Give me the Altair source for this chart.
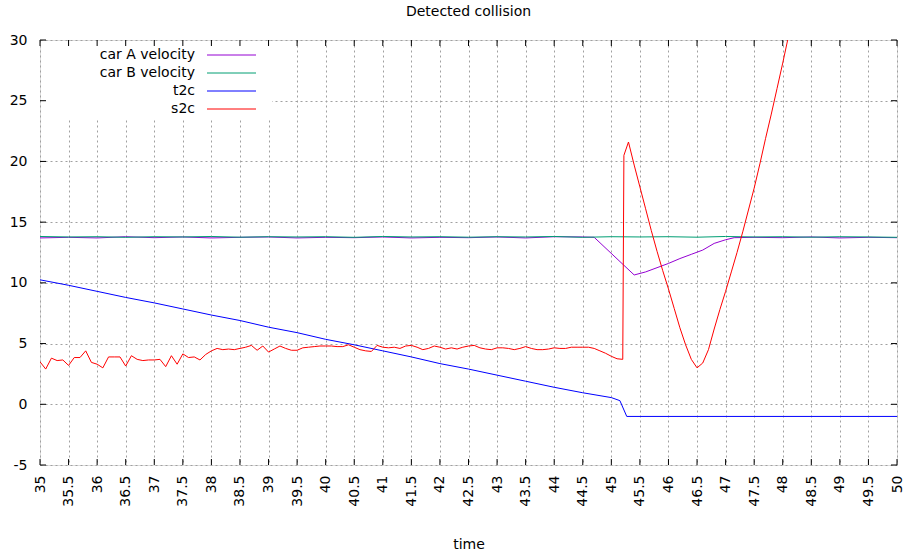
import altair as alt
import pandas as pd

FONT = "DejaVu Sans"
FS = 14
W, H = 857, 425

series_names = ["car A velocity", "car B velocity", "t2c", "s2c"]
series_colors = ["#9400d3", "#009e73", "#0000ff", "#ff0000"]

x_ticks = [35, 35.5, 36, 36.5, 37, 37.5, 38, 38.5, 39, 39.5, 40, 40.5, 41, 41.5, 42,
           42.5, 43, 43.5, 44, 44.5, 45, 45.5, 46, 46.5, 47, 47.5, 48, 48.5, 49, 49.5, 50]
y_ticks = [-5, 0, 5, 10, 15, 20, 25, 30]

carA_time = [35, 35.5, 36, 36.5, 37, 37.5, 38, 38.5, 39, 39.5, 40, 40.5, 41, 41.5, 42,
             42.5, 43, 43.5, 44, 44.5, 44.7, 45.4, 45.6, 45.8, 46.0, 46.2, 46.4, 46.6,
             46.8, 47.0, 47.15, 47.5, 48, 48.5, 49, 49.5, 50]
carA_vel = [13.7, 13.75, 13.7, 13.8, 13.72, 13.78, 13.7, 13.75, 13.78, 13.7, 13.75, 13.72,
            13.78, 13.7, 13.75, 13.72, 13.78, 13.7, 13.8, 13.78, 13.75, 10.65, 10.9, 11.25,
            11.6, 12.0, 12.35, 12.7, 13.25, 13.55, 13.72, 13.75, 13.72, 13.78, 13.7, 13.75, 13.72]

carB_time = x_ticks
carB_vel = [13.82, 13.78, 13.8, 13.75, 13.8, 13.78, 13.82, 13.76, 13.8, 13.78, 13.8, 13.75,
            13.82, 13.78, 13.8, 13.76, 13.8, 13.78, 13.82, 13.75, 13.8, 13.78, 13.8, 13.76,
            13.82, 13.78, 13.8, 13.76, 13.8, 13.78, 13.75]

t2c_time = [35, 35.5, 36, 36.5, 37, 37.5, 38, 38.5, 39, 39.5, 40, 40.5, 41, 41.5, 42,
            42.5, 43, 43.5, 44, 44.5, 45, 45.15, 45.27, 50]
t2c_val = [10.25, 9.8, 9.3, 8.8, 8.35, 7.85, 7.35, 6.9, 6.35, 5.9, 5.35, 4.9, 4.4, 3.9,
           3.35, 2.9, 2.4, 1.9, 1.4, 0.95, 0.55, 0.3, -1.0, -1.0]

s2c_time = [35.0, 35.1, 35.2, 35.3, 35.4, 35.5, 35.6, 35.7, 35.8, 35.9,
            36.0, 36.1, 36.2, 36.3, 36.4, 36.5, 36.6, 36.7, 36.8, 36.9,
            37.0, 37.1, 37.2, 37.3, 37.4, 37.5, 37.6, 37.7, 37.8, 37.9,
            38.0, 38.1, 38.2, 38.3, 38.4, 38.5, 38.6, 38.7, 38.8, 38.9,
            39.0, 39.1, 39.2, 39.3, 39.4, 39.5, 39.6, 39.7, 39.8, 39.9,
            40.0, 40.1, 40.2, 40.3, 40.4, 40.5, 40.6, 40.7, 40.8, 40.9,
            41.0, 41.1, 41.2, 41.3, 41.4, 41.5, 41.6, 41.7, 41.8, 41.9,
            42.0, 42.1, 42.2, 42.3, 42.4, 42.5, 42.6, 42.7, 42.8, 42.9,
            43.0, 43.1, 43.2, 43.3, 43.4, 43.5, 43.6, 43.7, 43.8, 43.9,
            44.0, 44.1, 44.2, 44.3, 44.4, 44.5, 44.6, 44.7, 44.8, 44.9,
            45.0, 45.1, 45.2, 45.22, 45.3, 45.4, 45.5, 45.6, 45.7, 45.8, 45.9,
            46.0, 46.1, 46.2, 46.3, 46.4, 46.5, 46.6, 46.7, 46.8, 46.9,
            47.0, 47.1, 47.2, 47.3, 47.4, 47.5, 47.6, 47.7, 47.8, 47.9,
            48.0, 48.1, 48.2]
s2c_val = [3.5, 2.9, 3.8, 3.6, 3.65, 3.2, 3.85, 3.85, 4.4, 3.45,
           3.3, 3.0, 3.9, 3.9, 3.9, 3.15, 4.0, 3.7, 3.6, 3.65,
           3.65, 3.7, 3.1, 4.0, 3.3, 4.15, 3.85, 3.9, 3.65, 4.1,
           4.4, 4.6, 4.5, 4.55, 4.5, 4.6, 4.7, 4.85, 4.45, 4.8,
           4.3, 4.55, 4.8, 4.6, 4.45, 4.45, 4.65, 4.7, 4.75, 4.8,
           4.8, 4.8, 4.75, 4.75, 4.9, 4.7, 4.5, 4.4, 4.35, 4.85,
           4.7, 4.65, 4.7, 4.6, 4.8, 4.85, 4.7, 4.5, 4.6, 4.8,
           4.7, 4.55, 4.65, 4.55, 4.7, 4.8, 4.85, 4.65, 4.55, 4.5,
           4.65, 4.65, 4.6, 4.5, 4.6, 4.75, 4.6, 4.5, 4.5, 4.55,
           4.65, 4.6, 4.6, 4.7, 4.7, 4.7, 4.7, 4.6, 4.4, 4.2,
           3.95, 3.75, 3.7, 20.5, 21.6, 19.7, 17.9, 16.1, 14.3, 12.6, 11.0,
           9.5, 7.9, 6.3, 4.9, 3.7, 3.0, 3.4, 4.5, 6.2, 7.8,
           9.3, 10.9, 12.5, 14.2, 16.0, 17.8, 19.8, 21.9, 23.9, 26.0,
           28.1, 30.3, 32.5]

rows = []
for name, ts, vs in [("car A velocity", carA_time, carA_vel),
                     ("car B velocity", carB_time, carB_vel),
                     ("t2c", t2c_time, t2c_val),
                     ("s2c", s2c_time, s2c_val)]:
    for t, v in zip(ts, vs):
        rows.append({"series": name, "time": t, "value": v})
df = pd.DataFrame(rows)

xscale = alt.Scale(domain=[35, 50], nice=False, zero=False)
yscale = alt.Scale(domain=[-5, 30], nice=False, zero=False)

x_axis = alt.Axis(values=x_ticks, title="time", labelAngle=270, labelAlign="right",
                  labelBaseline="middle", labelPadding=10, labelExpr="'' + datum.value",
                  ticks=False, domain=False, grid=True, gridColor="#a0a0a0",
                  gridDash=[2, 3], labelFont=FONT, labelFontSize=FS, labelColor="#000",
                  titleFont=FONT, titleFontSize=FS, titleFontWeight="normal",
                  titleColor="#000", titleY=83, titleBaseline="alphabetic",
                  labelOverlap=False, labelSeparation=0, labelFlush=False)
y_axis = alt.Axis(values=y_ticks, title=None, labelPadding=13,
                  labelExpr="'' + datum.value", ticks=False, domain=False, grid=True,
                  gridColor="#a0a0a0", gridDash=[2, 3], labelFont=FONT,
                  labelFontSize=FS, labelColor="#000", labelOverlap=False, labelFlush=False)

lines = alt.Chart(df).mark_line(strokeWidth=1, clip=True).encode(
    x=alt.X("time:Q", scale=xscale, axis=x_axis),
    y=alt.Y("value:Q", scale=yscale, axis=y_axis),
    color=alt.Color("series:N", scale=alt.Scale(domain=series_names, range=series_colors),
                    legend=None),
)

legend_bg = alt.Chart(pd.DataFrame({"a": [0]})).mark_rect(fill="white").encode(
    x=alt.value(1), x2=alt.value(232), y=alt.value(1), y2=alt.value(80))

xt = pd.DataFrame({"time": x_ticks})
yt = pd.DataFrame({"value": y_ticks})
tick_bottom = alt.Chart(xt).mark_rule(color="black", strokeWidth=1).encode(
    x=alt.X("time:Q", scale=xscale, axis=x_axis), y=alt.value(H), y2=alt.value(H - 6))
tick_top = alt.Chart(xt).mark_rule(color="black", strokeWidth=1).encode(
    x=alt.X("time:Q", scale=xscale, axis=x_axis), y=alt.value(0), y2=alt.value(6))
tick_left = alt.Chart(yt).mark_rule(color="black", strokeWidth=1).encode(
    y=alt.Y("value:Q", scale=yscale, axis=y_axis), x=alt.value(0), x2=alt.value(6))
tick_right = alt.Chart(yt).mark_rule(color="black", strokeWidth=1).encode(
    y=alt.Y("value:Q", scale=yscale, axis=y_axis), x=alt.value(W), x2=alt.value(W - 6))

layers = [lines, legend_bg, tick_bottom, tick_top, tick_left, tick_right]
for i, (name, col) in enumerate(zip(series_names, series_colors)):
    py = 15 + 18 * i
    layers.append(alt.Chart(pd.DataFrame({"a": [0]})).mark_text(
        text=name, align="right", baseline="middle", font=FONT, fontSize=FS, color="#000"
    ).encode(x=alt.value(155), y=alt.value(py)))
    layers.append(alt.Chart(pd.DataFrame({"a": [0]})).mark_rule(
        color=col, strokeWidth=1).encode(x=alt.value(167), x2=alt.value(216), y=alt.value(py)))

chart = alt.layer(*layers).properties(
    width=W, height=H,
    title=alt.TitleParams("Detected collision", font=FONT, fontSize=FS, fontWeight="normal",
                          color="#000", anchor="middle", offset=14),
    autosize=alt.AutoSizeParams(type="none"),
    padding={"left": 40, "top": 40, "right": 12, "bottom": 92},
).configure_view(stroke="black", strokeWidth=1).configure_axis(
    labelOverlap=False
).configure(background="white")

chart.save("out.html", embed_options={"renderer": "svg", "actions": False})
